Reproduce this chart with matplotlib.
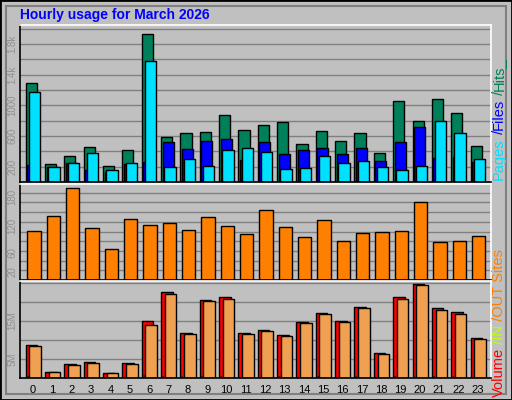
import matplotlib.pyplot as plt
from matplotlib.patches import Rectangle
import numpy as np

hours = list(range(24))
hits = [1295, 241, 343, 457, 203, 419, 1929, 584, 635, 647, 876, 673,
        749, 787, 495, 660, 533, 635, 381, 1053, 800, 1079, 901, 470]
files = [216, 190, 254, 152, 127, 241, 267, 520, 431, 533, 558, 292,
         520, 368, 419, 444, 368, 444, 279, 520, 723, 317, 330, 267]
pages = [1180, 190, 254, 381, 152, 254, 1574, 190, 305, 203, 419, 444,
         393, 165, 178, 343, 254, 279, 190, 152, 203, 800, 635, 305]
sites = [101, 133, 189, 107, 64, 126, 114, 118, 103, 129, 111, 94,
         144, 109, 88, 124, 81, 96, 99, 101, 161, 79, 81, 90]
volume = [8.8, 1.7, 3.6, 4.2, 1.2, 3.9, 15.1, 22.5, 11.8, 20.5, 21.4, 11.8,
          12.6, 11.3, 14.8, 17.0, 15.1, 18.6, 6.6, 21.4, 24.6, 18.4, 17.3, 10.5]
vol_out = [8.3, 1.5, 3.4, 3.9, 1.2, 3.6, 14.0, 22.2, 11.5, 20.3, 20.8, 11.5,
           12.4, 11.0, 14.5, 16.7, 14.8, 18.4, 6.4, 20.8, 24.4, 17.8, 16.7, 10.2]
vol_in = [0.4, 0.1, 0.1, 0.1, 0.1, 0.1, 0.9, 0.5, 0.4, 0.5, 0.5, 0.2,
          0.3, 0.4, 0.2, 0.4, 0.2, 0.4, 0.2, 0.4, 0.5, 0.4, 0.4, 0.2]

BG = '#C0C0C0'
W, H = 512, 400
plt.rcParams['font.family'] = ['Liberation Sans', 'DejaVu Sans']
fig = plt.figure(figsize=(5.12, 4), dpi=100, facecolor=BG)

# outer frame
fig.patches.append(Rectangle((0, 0), 1, 1, transform=fig.transFigure,
                             fill=False, edgecolor='black', lw=2))
fig.patches.append(Rectangle((6 / W, 6 / H), (W - 12) / W, (H - 12) / H,
                             transform=fig.transFigure, fill=False,
                             edgecolor='#808080', lw=1.5))

def panel(top, bottom):
    ax = fig.add_axes([20 / W, 1 - bottom / H, 471 / W, (bottom - top) / H])
    ax.set_facecolor(BG)
    ax.set_xlim(-0.68, 23.68)
    for s in ax.spines.values():
        s.set_color('white')
        s.set_linewidth(1.2)
    ax.spines['left'].set_color('black')
    ax.spines['bottom'].set_color('black')
    ax.tick_params(axis='y', length=0, labelsize=7, labelcolor='#909090',
                   labelrotation=90, pad=2)
    ax.tick_params(axis='x', length=0)
    ax.set_axisbelow(True)
    return ax

x = np.array(hours)
kw = dict(edgecolor='black', linewidth=1, align='edge')

ax1 = panel(25, 182)
ax1.set_ylim(0, 2050)
ax1.set_yticks([200, 600, 1000, 1400, 1800])
ax1.set_yticklabels(['200', '600', '1000', '1.4k', '1.8k'], va='center')
for g in range(200, 2001, 200):
    ax1.axhline(g, color='#808080', lw=1, zorder=0)
ax1.bar(x - 0.38, hits, 0.57, color='#00805A', **kw)
ax1.bar(x - 0.30, files, 0.57, color='#0000FF', **kw)
ax1.bar(x - 0.21, pages, 0.58, color='#00E0FF', **kw)
ax1.set_xticks([])

ax2 = panel(184, 280)
ax2.set_ylim(0, 198)
ax2.set_yticks([20, 60, 120, 180])
for g in range(20, 200, 20):
    ax2.axhline(g, color='#808080', lw=1, zorder=0)
ax2.bar(x - 0.30, sites, 0.69, color='#FF8000', **kw)
ax2.set_xticks([])

ax3 = panel(281, 378)
ax3.set_ylim(0, 25.5)
ax3.set_yticks([5, 15])
ax3.set_yticklabels(['5M', '15M'], va='center')
for g in range(5, 26, 5):
    ax3.axhline(g, color='#808080', lw=1, zorder=0)
ax3.bar(x - 0.38, volume, 0.6, color='#FF0000', **kw)
ax3.bar(x - 0.34, vol_in, 0.06, color='#FFFF00', edgecolor='black', linewidth=0.5, align='edge')
ax3.bar(x - 0.19, vol_out, 0.6, color='#EFA050', **kw)
ax3.set_xticks(hours)
ax3.tick_params(axis='x', labelsize=8, pad=5)

fig.text(20 / W, 1 - 15 / H, 'Hourly usage for March 2026', color='#0000FF',
         fontsize=10, fontweight='bold', va='center')

renderer = fig.canvas.get_renderer()

def vlabel(parts, xpx, ybot):
    # stack rotated text pieces bottom-up
    y = ybot
    for txt, col in parts:
        t = fig.text(xpx / W, 1 - y / H, txt, color=col, fontsize=10.5,
                     rotation=90, ha='center', va='bottom')
        y -= t.get_window_extent(renderer).height

vlabel([('Pages', '#00E0FF'), (' /', '#0000FF'), ('Files', '#0000FF'),
        (' /', '#00805A'), ('Hits_', '#00805A')], 499, 180)
vlabel([('Volume', '#FF0000'), (' /IN', '#C0FF00'), (' /OUT', '#FF8000'),
        (' Sites', '#FF8000')], 499, 397)

fig.savefig('out.png', dpi=100, facecolor=BG)
